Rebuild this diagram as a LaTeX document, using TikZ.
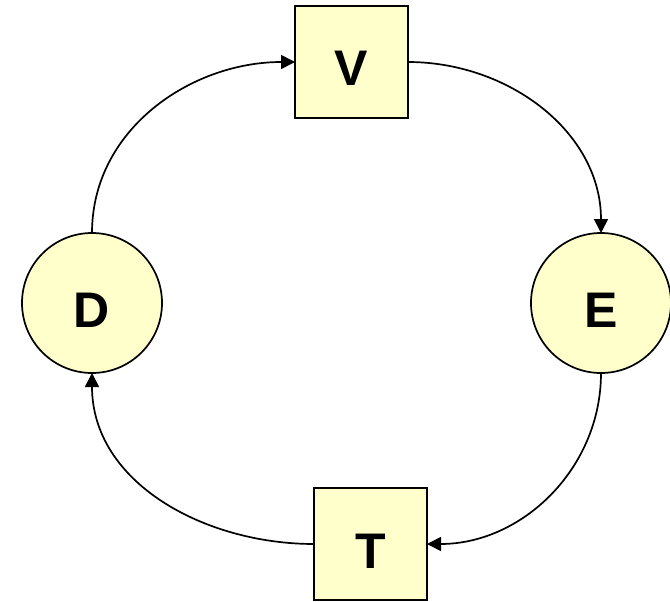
\documentclass[tikz,border=0pt]{standalone}
\usepackage{fontspec}
\setmainfont{Liberation Sans}
\usetikzlibrary{arrows.meta, positioning}
\definecolor{paleyellow}{HTML}{FFFFCC}
\tikzset{
  stagebox/.style  = {draw, fill=paleyellow, line width=1.7pt, inner sep=0pt,
                      outer sep=0pt, minimum width=113pt, minimum height=112pt,
                      text height=48pt, text depth=0pt,
                      font=\fontsize{50}{60}\selectfont\bfseries},
  stagecirc/.style = {draw, circle, fill=paleyellow, line width=1.7pt, inner sep=0pt,
                      outer sep=0pt, minimum size=140pt,
                      text height=48pt, text depth=0pt,
                      font=\fontsize{50}{60}\selectfont\bfseries},
  cycle/.style     = {-{Triangle[length=14pt, width=14pt]}, line width=1.7pt, draw=black}
}
\begin{document}
\begin{tikzpicture}[x=1pt, y=-1pt]
\useasboundingbox (0,0) rectangle (670,602);
% Stages
\node[stagebox]  (V) at (351.5,62)  {V};
\node[stagecirc] (E) at (601,303)   {E};
\node[stagebox]  (T) at (370.5,544) {T};
\node[stagecirc] (D) at (92,303)    {D};
% Cycle
\draw[cycle] (V.east)  to[out=0,   in=90]  (E.north);
\draw[cycle] (E.south) to[out=-90, in=0]   (T.east);
\draw[cycle] (T.west)  to[out=180, in=-90] (D.south);
\draw[cycle] (D.north) to[out=90,  in=180] (V.west);
\end{tikzpicture}
\end{document}
